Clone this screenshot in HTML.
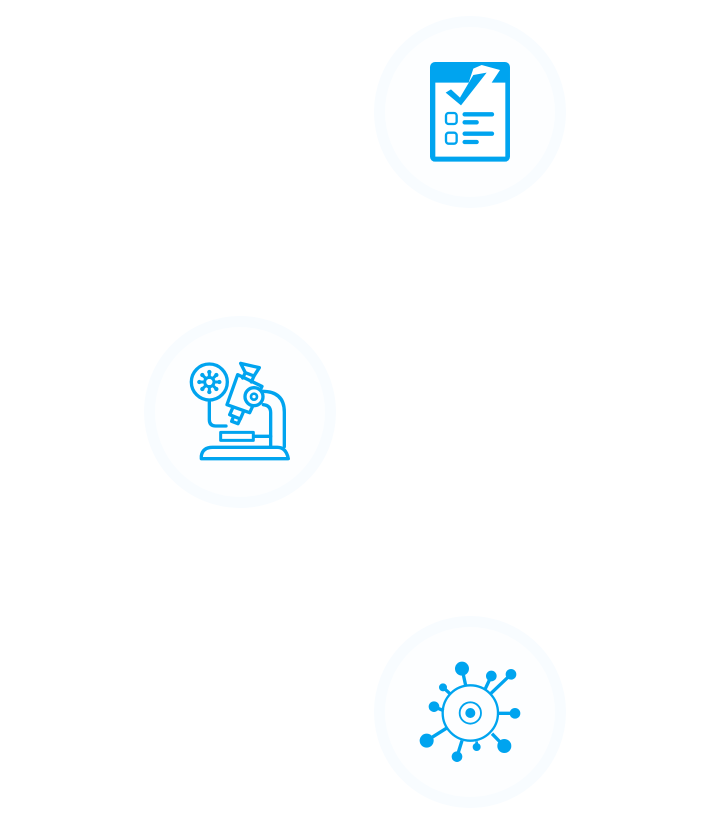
<!DOCTYPE html>
<html>
<head>
<meta charset="utf-8">
<style>
html,body{margin:0;padding:0;background:#fff;width:716px;height:824px;overflow:hidden}
svg{display:block}
</style>
</head>
<body>
<svg width="716" height="824" viewBox="0 0 716 824" xmlns="http://www.w3.org/2000/svg">
<rect width="716" height="824" fill="#fff"/>
<g fill="#fdfeff" stroke="#f8fcff" stroke-width="11">
<circle cx="470" cy="112" r="90.5"/>
<circle cx="240" cy="412" r="90.5"/>
<circle cx="470" cy="712" r="90.5"/>
</g>

<!-- Clipboard -->
<g transform="translate(410,50) scale(0.3333)">
<rect x="60" y="36" width="240" height="299" rx="15" fill="#00a4ef"/>
<path d="M76 98H176L190 56L215 45L270 60L245 98H286V320H76Z" fill="#fff"/>
<path d="M107 128L123 118L150 143L190 75L230 68L153 166Z" fill="#00a4ef"/>
<g fill="none" stroke="#00a4ef" stroke-linecap="round">
<rect x="108" y="189" width="32" height="33" rx="8" stroke-width="7"/>
<rect x="108" y="248" width="32" height="33" rx="8" stroke-width="7"/>
<path d="M164 193H246M164 217H200M164 251H246M164 276H200" stroke-width="13"/>
</g>
</g>

<!-- Microscope -->
<g transform="translate(180,352) scale(0.3333)" fill="none" stroke="#00a4ef" stroke-width="10" stroke-linecap="round" stroke-linejoin="round">
<circle cx="88" cy="90" r="54"/>
<path d="M88 145V203Q88 222 107 222H138"/>
<circle cx="88" cy="90" r="14" stroke-width="9"/>
<path d="M88 60V76M88 104V120M58 90H74M102 90H118M67 69L78 80M98 100L109 111M109 69L98 80M78 100L67 111" stroke-width="9"/>
<g fill="#00a4ef" stroke="none">
<circle cx="88" cy="60" r="6.5"/><circle cx="88" cy="120" r="6.5"/>
<circle cx="58" cy="90" r="6.5"/><circle cx="118" cy="90" r="6.5"/>
<circle cx="67" cy="69" r="6.5"/><circle cx="109" cy="69" r="6.5"/>
<circle cx="67" cy="111" r="6.5"/><circle cx="109" cy="111" r="6.5"/>
</g>
<path d="M246 118Q313 118 313 180V284"/>
<path d="M250 158Q272 160 272 182V284"/>
<path d="M158 168L149 188L181 201L190 180"/>
<path d="M160 195L155 208L174 215L180 202"/>
<path d="M173 68L246 103L209 182L141 158Z" fill="#fdfeff"/>
<path d="M196 62L188 78M222 72L214 90"/>
<path d="M182 34L238 47L222 72L196 62Z"/>
<circle cx="222" cy="134" r="27" fill="#fdfeff"/>
<circle cx="222" cy="134" r="9" stroke-width="8"/>
<rect x="122" y="241" width="98" height="24" stroke-width="9"/>
<path d="M222 253H272"/>
<path d="M64 320V312Q68 286 98 286H292Q318 286 325 320Z"/>
</g>

<!-- Virus / cell -->
<g transform="translate(410,652) scale(0.3333)" fill="#00a4ef" stroke="none">
<g fill="none" stroke="#00a4ef">
<circle cx="181" cy="183" r="83" stroke-width="7"/>
<circle cx="181" cy="183" r="32" stroke-width="5.5"/>
<path d="M156 50L167 100M244 72L226 110M302 68L243 124M99 106L122 127M72 164L101 176M314 184H266M50 266L109 229M282 282L246 245M141 314L156 266" stroke-width="10"/>
<path d="M200 285V268" stroke-width="8"/>
</g>
<circle cx="181" cy="183" r="15"/>
<circle cx="156" cy="50" r="21"/>
<circle cx="244" cy="72" r="16"/>
<circle cx="303" cy="67" r="16"/>
<circle cx="99" cy="106" r="12"/>
<circle cx="72" cy="164" r="16"/>
<circle cx="315" cy="184" r="16"/>
<circle cx="50" cy="266" r="21"/>
<circle cx="283" cy="282" r="21"/>
<circle cx="141" cy="314" r="16"/>
<circle cx="200" cy="285" r="12"/>
</g>
</svg>
</body>
</html>
